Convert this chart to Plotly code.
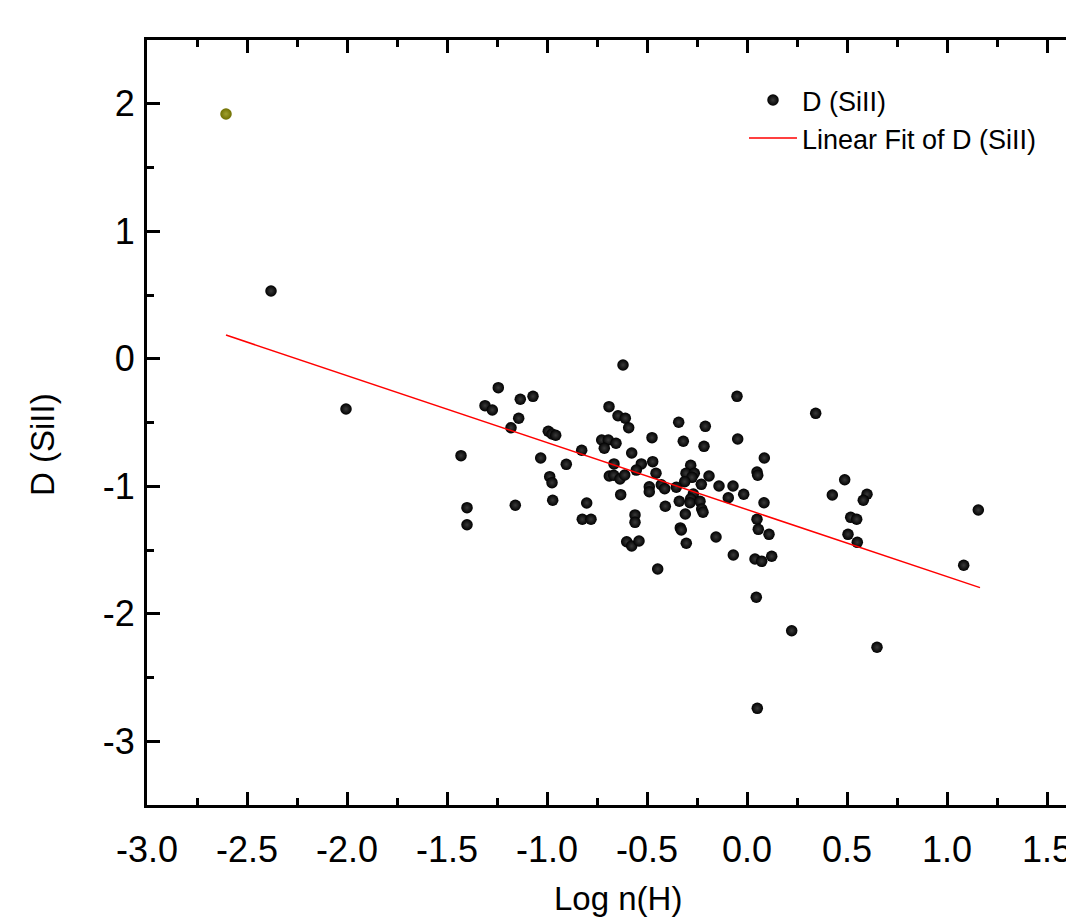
import plotly.graph_objects as go

# ---- data ----
log_nH = [
    -2.38, -2.005, -1.43, -1.40, -1.40,
    -1.2435, -1.31, -1.2735, -1.1335, -1.07, -1.1415, -1.18, -1.1585, -1.0315,
    -0.9935, -0.975, -0.9565, -0.9035, -0.9865, -0.975, -0.9715, -0.8265,
    -0.8015, -0.8235, -0.78,
    -0.62, -0.05, -0.69, -0.645, -0.6085, -0.5915, -0.3415, -0.2085, -0.475,
    -0.7265, -0.6935, -0.7135, -0.655, -0.3185, -0.0465, -0.215, -0.5765,
    0.0865, -0.665, -0.5285, -0.4715, -0.5535, -0.455, -0.2815, -0.305,
    -0.2635, -0.275, -0.19, -0.3115, -0.6885, -0.6665, -0.635, -0.6115,
    0.05, 0.0535, -0.4285, -0.4115, -0.4885, -0.4885, -0.3535, -0.14, -0.07,
    -0.2285, -0.2685, -0.0935, -0.0165, -0.6315, -0.3385, -0.2815, -0.285,
    -0.235, -0.4085, 0.085, -0.2265, -0.22, -0.3085, -0.56, -0.56, 0.05,
    0.0565, 0.11, -0.3335, -0.3285, -0.155, -0.6015, -0.5765, -0.54, -0.3035,
    -0.0685, 0.04, 0.0735, 0.1235, -0.4465,
    0.3435, 0.4885, 0.4265, 0.60, 0.5815, 0.5185, 0.5485, 0.505, 0.5515,
    1.0835, 1.1565, 0.0465, 0.2235, 0.65, 0.0515,
]
D_SiII = [
    0.531, -0.394, -0.760, -1.168, -1.302,
    -0.227, -0.368, -0.402, -0.318, -0.295, -0.467, -0.541, -1.149, -0.778,
    -0.569, -0.590, -0.600, -0.828, -0.925, -0.972, -1.110, -0.718,
    -1.131, -1.259, -1.259,
    -0.049, -0.295, -0.376, -0.447, -0.467, -0.541, -0.498, -0.530, -0.619,
    -0.637, -0.637, -0.702, -0.663, -0.647, -0.629, -0.687, -0.739,
    -0.778, -0.825, -0.825, -0.807, -0.873, -0.898, -0.836, -0.898,
    -0.898, -0.930, -0.920, -0.964, -0.920, -0.914, -0.943, -0.912,
    -0.888, -0.914, -0.988, -1.019, -1.004, -1.043, -1.008, -0.998, -0.998,
    -0.985, -1.061, -1.090, -1.063, -1.066, -1.118, -1.098, -1.129,
    -1.118, -1.157, -1.129, -1.178, -1.204, -1.218, -1.225, -1.283, -1.259,
    -1.338, -1.377, -1.327, -1.343, -1.398, -1.435, -1.469, -1.429, -1.447,
    -1.539, -1.571, -1.589, -1.549, -1.649,
    -0.428, -0.949, -1.069, -1.063, -1.110, -1.244, -1.259, -1.377, -1.440,
    -1.620, -1.186, -1.871, -2.133, -2.263, -2.742,
]
# highlighted (olive) point
hl_x = [-2.605]
hl_y = [1.920]

# linear fit line end points
fit_x = [-2.605, 1.165]
fit_y = [0.186, -1.795]

x_ticks = [-3.0, -2.5, -2.0, -1.5, -1.0, -0.5, 0.0, 0.5, 1.0, 1.5]
x_tick_text = ["-3.0", "-2.5", "-2.0", "-1.5", "-1.0", "-0.5", "0.0", "0.5", "1.0", "1.5"]
y_ticks = [-3, -2, -1, 0, 1, 2]
y_tick_text = ["-3", "-2", "-1", "0", "1", "2"]

FONT = "Liberation Sans, Arial, sans-serif"

fig = go.Figure()
fig.add_trace(go.Scatter(
    x=log_nH, y=D_SiII, mode="markers", name="D (SiII)",
    marker=dict(size=11.5, color="black", line=dict(width=0),
                gradient=dict(type="radial", color="#3a3a3a")),
))
fig.add_trace(go.Scatter(
    x=hl_x, y=hl_y, mode="markers", showlegend=False,
    marker=dict(size=11.5, color="#6f6f00", line=dict(width=0),
                gradient=dict(type="radial", color="#a0a030")),
))
fig.add_trace(go.Scatter(
    x=fit_x, y=fit_y, mode="lines", name="Linear Fit of D (SiII)",
    line=dict(color="red", width=1.5),
))

axis_common = dict(
    showline=True, linecolor="black", linewidth=3,
    ticks="inside", ticklen=13, tickwidth=2.5, tickcolor="black",
    showgrid=False, zeroline=False,
    tickfont=dict(family=FONT, size=36, color="black"),
)

fig.update_xaxes(
    range=[-3.0, 1.595], tickvals=x_ticks, ticktext=x_tick_text,
    mirror="allticks", ticklabelstandoff=11, ticklabeloverflow="allow",
    minor=dict(dtick=0.25, tick0=0, ticks="inside", ticklen=7, tickwidth=2.5,
               tickcolor="black", showgrid=False),
    **axis_common,
)
fig.update_yaxes(
    range=[-3.5, 2.5], tickvals=y_ticks, ticktext=y_tick_text,
    mirror=False, ticklabelstandoff=2,
    minor=dict(dtick=0.5, tick0=0, ticks="inside", ticklen=7, tickwidth=2.5,
               tickcolor="black", showgrid=False),
    **axis_common,
)

fig.update_layout(
    width=1066, height=921,
    margin=dict(l=147, r=0, t=40, b=116, autoexpand=False),
    paper_bgcolor="white", plot_bgcolor="white",
    showlegend=True,
    legend=dict(x=0.6496, y=0.953, xanchor="left", yanchor="top",
                bgcolor="rgba(0,0,0,0)", borderwidth=0,
                font=dict(family=FONT, size=27, color="black"),
                itemwidth=48, tracegroupgap=0),
    annotations=[
        dict(text="Log n(H)", xref="paper", yref="paper",
             x=(618 - 147) / 919, y=-(898 - 805) / 765,
             xanchor="center", yanchor="middle", showarrow=False,
             font=dict(family=FONT, size=33, color="black")),
        dict(text="D (SiII)", xref="paper", yref="paper",
             x=-(147 - 42) / 919, y=(805 - 445) / 765,
             xanchor="center", yanchor="middle", showarrow=False, textangle=-90,
             font=dict(family=FONT, size=33, color="black")),
    ],
)

fig.write_html(
    "out.html",
    config={"displayModeBar": False},
    post_script="document.body.style.margin='0';document.body.style.overflow='hidden';",
)
